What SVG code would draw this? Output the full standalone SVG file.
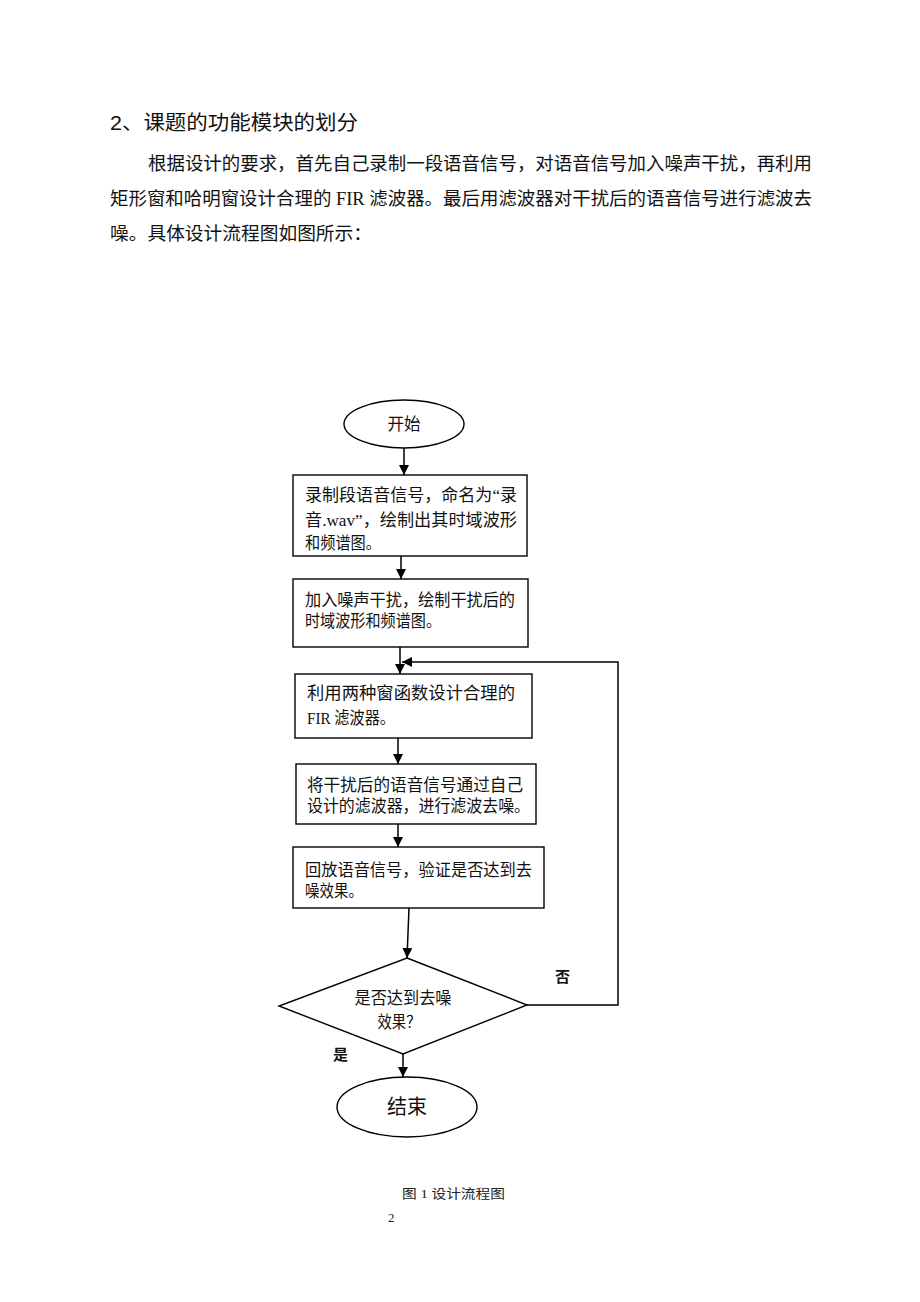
<svg xmlns="http://www.w3.org/2000/svg" width="920" height="1302" viewBox="0 0 920 1302">
<style>
.bg{fill:#fff}
.shape{fill:#fff;stroke:#000;stroke-width:1.4}
.line{fill:none;stroke:#000;stroke-width:1.5}
.t{font-family:"Liberation Serif","Noto Sans CJK SC",serif;font-size:16.5px;fill:#111}
.para{font-family:"Liberation Serif","Noto Sans CJK SC",serif;font-size:18.5px;fill:#111}
.head{font-family:"Liberation Sans","Noto Sans CJK SC",sans-serif;font-size:20px;fill:#111}
.lbl{font-family:"Liberation Sans","Noto Sans CJK SC",sans-serif;font-size:15px;font-weight:bold;fill:#111}
.cap{font-family:"Liberation Serif","Noto Sans CJK SC",serif;font-size:13px;fill:#222}
</style>
<defs>
<marker id="arr" viewBox="0 0 10 10" refX="10" refY="5" markerWidth="10" markerHeight="10" markerUnits="userSpaceOnUse" orient="auto">
<path d="M0,0 L10,5 L0,10 z" fill="#000"/>
</marker>
</defs>
<rect class="bg" x="0" y="0" width="920" height="1302"/>

<g id="text-intro">
<text class="head" x="110" y="130" textLength="248" lengthAdjust="spacingAndGlyphs">2、课题的功能模块的划分</text>
<text class="para" x="148" y="170" textLength="664" lengthAdjust="spacingAndGlyphs">根据设计的要求，首先自己录制一段语音信号，对语音信号加入噪声干扰，再利用</text>
<text class="para" x="110" y="205" textLength="702" lengthAdjust="spacingAndGlyphs">矩形窗和哈明窗设计合理的 FIR 滤波器。最后用滤波器对干扰后的语音信号进行滤波去</text>
<text class="para" x="110" y="240" textLength="262" lengthAdjust="spacingAndGlyphs">噪。具体设计流程图如图所示：</text>
</g>

<g id="connectors">
<line class="line" x1="404" y1="448" x2="404" y2="475" marker-end="url(#arr)"/>
<line class="line" x1="401" y1="556" x2="401" y2="579" marker-end="url(#arr)"/>
<line class="line" x1="400" y1="647" x2="400" y2="674" marker-end="url(#arr)"/>
<line class="line" x1="398" y1="738" x2="398" y2="764" marker-end="url(#arr)"/>
<line class="line" x1="398" y1="824" x2="398" y2="847" marker-end="url(#arr)"/>
<line class="line" x1="409" y1="908" x2="407" y2="958" marker-end="url(#arr)"/>
<line class="line" x1="403" y1="1054" x2="403" y2="1077" marker-end="url(#arr)"/>
<polyline class="line" points="527,1005 618,1005 618,662 402,662" marker-end="url(#arr)"/>
<text class="lbl" x="555" y="982">否</text>
<text class="lbl" x="333" y="1060">是</text>
</g>

<g id="start">
<ellipse class="shape" cx="404" cy="424" rx="60" ry="24"/>
<text class="t" x="404" y="430" text-anchor="middle">开始</text>
</g>

<g id="record">
<rect class="shape" x="293" y="475" width="234" height="81"/>
<text class="t" x="305" y="501" textLength="212" lengthAdjust="spacingAndGlyphs">录制段语音信号，命名为“录</text>
<text class="t" x="305" y="526" textLength="212" lengthAdjust="spacingAndGlyphs">音.wav”，绘制出其时域波形</text>
<text class="t" x="305" y="549" textLength="76" lengthAdjust="spacingAndGlyphs">和频谱图。</text>
</g>

<g id="noise">
<rect class="shape" x="293" y="579" width="235" height="68"/>
<text class="t" x="305" y="606" textLength="210" lengthAdjust="spacingAndGlyphs">加入噪声干扰，绘制干扰后的</text>
<text class="t" x="305" y="627" textLength="136" lengthAdjust="spacingAndGlyphs">时域波形和频谱图。</text>
</g>

<g id="design">
<rect class="shape" x="295" y="674" width="237" height="64"/>
<text class="t" x="307" y="699" textLength="208" lengthAdjust="spacingAndGlyphs">利用两种窗函数设计合理的</text>
<text class="t" x="307" y="724" textLength="88" lengthAdjust="spacingAndGlyphs">FIR 滤波器。</text>
</g>

<g id="filter">
<rect class="shape" x="296" y="764" width="240" height="60"/>
<text class="t" x="307" y="791" textLength="216" lengthAdjust="spacingAndGlyphs">将干扰后的语音信号通过自己</text>
<text class="t" x="307" y="812" textLength="223" lengthAdjust="spacingAndGlyphs">设计的滤波器，进行滤波去噪。</text>
</g>

<g id="playback">
<rect class="shape" x="293" y="847" width="251" height="61"/>
<text class="t" x="305" y="876" textLength="227" lengthAdjust="spacingAndGlyphs">回放语音信号，验证是否达到去</text>
<text class="t" x="305" y="897" textLength="58" lengthAdjust="spacingAndGlyphs">噪效果。</text>
</g>

<g id="decision">
<polygon class="shape" points="407,958 527,1005 403,1054 279,1006"/>
<text class="t" x="403" y="1004" text-anchor="middle" textLength="97" lengthAdjust="spacingAndGlyphs">是否达到去噪</text>
<text class="t" x="399" y="1028" text-anchor="middle" textLength="43" lengthAdjust="spacingAndGlyphs">效果？</text>
</g>

<g id="end">
<ellipse class="shape" cx="407" cy="1107" rx="70" ry="30"/>
<text class="t" x="407" y="1114" text-anchor="middle" style="font-size:20px">结束</text>
</g>

<g id="caption">
<text class="cap" x="402" y="1198" textLength="103" lengthAdjust="spacingAndGlyphs">图 1 设计流程图</text>
<text class="cap" x="388" y="1222">2</text>
</g>
</svg>
